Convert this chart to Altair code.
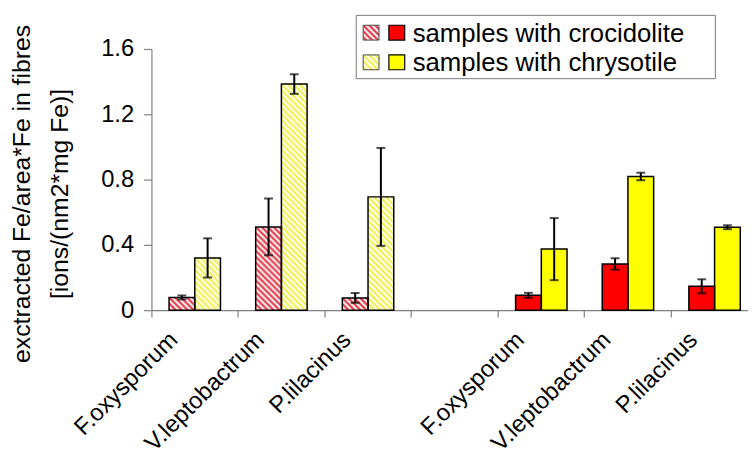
import base64
import json
import altair as alt
import pandas as pd

# ---------------- data ----------------
fungi = ["F.oxysporum", "V.leptobactrum", "P.lilacinus"]
sample_names = ["crocidolite", "chrysotile"]
legend_labels = ["samples with crocidolite", "samples with chrysotile"]

# left block (hatched bars)
left_croc = [0.078, 0.51, 0.075]
left_croc_err = [0.012, 0.174, 0.030]
left_chry = [0.32, 1.385, 0.694]
left_chry_err = [0.12, 0.060, 0.300]

# right block (solid bars)
right_croc = [0.091, 0.283, 0.146]
right_croc_err = [0.015, 0.035, 0.043]
right_chry = [0.374, 0.819, 0.508]
right_chry_err = [0.190, 0.023, 0.012]

slot_keys = ["L1", "L2", "L3", "gap", "R1", "R2", "R3"]
slot_labels = fungi + [""] + fungi
y_ticks = [0, 0.4, 0.8, 1.2, 1.6]

# ---------------- styling helpers ----------------
FONT = "Liberation Sans"


def hatch_url(bg, fg):
    svg = (
        '<svg xmlns="http://www.w3.org/2000/svg" width="100%" height="100%">'
        '<defs><pattern id="h" patternUnits="userSpaceOnUse" width="6" height="6">'
        f'<rect width="6" height="6" fill="{bg}"/>'
        f'<path d="M0,0 L6,6 M-1,5 L1,7 M5,-1 L7,1" stroke="{fg}" stroke-width="2.2"/>'
        '</pattern></defs>'
        '<rect width="100%" height="100%" fill="url(#h)"/></svg>'
    )
    return "data:image/svg+xml;base64," + base64.b64encode(svg.encode()).decode()


hatch = {
    "crocidolite": hatch_url("#fff6f6", "#e23a48"),
    "chrysotile": hatch_url("#fffff2", "#f2ee55"),
}

rows = []
blocks = [
    ("hatched", ["L1", "L2", "L3"], left_croc, left_croc_err, left_chry, left_chry_err),
    ("solid", ["R1", "R2", "R3"], right_croc, right_croc_err, right_chry, right_chry_err),
]
for style, keys, croc, croc_e, chry, chry_e in blocks:
    for i, k in enumerate(keys):
        for s, v, e in (("crocidolite", croc[i], croc_e[i]), ("chrysotile", chry[i], chry_e[i])):
            rows.append(dict(slot=k, sample=s, style=style, value=v, lo=v - e, hi=v + e,
                             key=f"{style}-{s}", url=hatch[s]))
df = pd.DataFrame(rows)

label_expr = (
    f"{json.dumps(slot_labels)}[indexof({json.dumps(slot_keys)}, datum.value)]"
)

x_enc = alt.X(
    "slot:N",
    scale=alt.Scale(domain=slot_keys, range=[0, 613], paddingInner=0, paddingOuter=0),
    axis=alt.Axis(
        title=None,
        bandPosition=0,
        labelExpr=label_expr,
        labelAngle=-45,
        labelAlign="right",
        labelBaseline="middle",
        labelOffset=-21,
        labelPadding=19,
        labelFontSize=24,
        labelOverlap=False,
        labelBound=False,
        tickSize=7,
    ),
)
xo_enc = alt.XOffset(
    "sample:N",
    scale=alt.Scale(domain=sample_names, paddingInner=0, paddingOuter=0.685),
)

y_axis = alt.Axis(
    values=y_ticks,
    labelExpr="datum.value == 0 ? '0' : format(datum.value, '.1f')",
    tickSize=8,
    labelPadding=10,
    labelFontSize=24,
    titleFontSize=25,
    titleFontWeight="normal",
    titleAngle=-90,
    titleAlign="center",
    titleBaseline="top",
    titleLineHeight=38,
    titleX=-143,
    titleY=146,
)
y_scale = alt.Scale(domain=[0, 1.6], nice=False)
y_title = ["exctracted Fe/area*Fe in fibres", "[ions/(nm2*mg Fe)]"]


def Y(field):
    return alt.Y(field, scale=y_scale, axis=y_axis, title=y_title)


base = alt.Chart(df)

bars = base.mark_bar().encode(
    x=x_enc,
    xOffset=xo_enc,
    y=Y("value:Q"),
    fill=alt.Fill(
        "key:N",
        scale=alt.Scale(
            domain=["hatched-crocidolite", "hatched-chrysotile", "solid-crocidolite", "solid-chrysotile"],
            range=["#ffffff", "#ffffff", "#ff0000", "#ffff00"],
        ),
        legend=None,
    ),
)

hatches = base.transform_filter(alt.datum.style == "hatched").mark_image(aspect=False).encode(
    x=x_enc,
    xOffset=xo_enc,
    y=Y("value:Q"),
    y2=alt.datum(0),
    url="url:N",
)

outlines = base.mark_bar(fillOpacity=0, stroke="black", strokeWidth=1.5).encode(
    x=x_enc, xOffset=xo_enc, y=Y("value:Q")
)

err = base.mark_rule(color="black", strokeWidth=2).encode(
    x=x_enc, xOffset=xo_enc, y=Y("lo:Q"), y2="hi:Q"
)
cap_hi = base.mark_tick(color="black", thickness=2, size=9).encode(
    x=x_enc, xOffset=xo_enc, y=Y("hi:Q")
)
cap_lo = base.mark_tick(color="black", thickness=2, size=9).encode(
    x=x_enc, xOffset=xo_enc, y=Y("lo:Q")
)

# ---------------- custom legend (two swatches per entry) ----------------
one = pd.DataFrame({"k": [0]})
leg = [
    alt.Chart(one).mark_rect(fill="white", stroke="#7a7a7a", strokeWidth=1).encode(
        x=alt.value(207), x2=alt.value(570), y=alt.value(-34), y2=alt.value(30)
    )
]
row_y = [(-24, -9, -7), (6, 21, 22)]
solid_cols = ["#ff0000", "#ffff00"]
for (y0, y1, yb), s, lab, col in zip(row_y, sample_names, legend_labels, solid_cols):
    leg.append(
        alt.Chart(one).mark_image(aspect=False).encode(
            x=alt.value(214), x2=alt.value(230), y=alt.value(y0), y2=alt.value(y1),
            url=alt.value(hatch[s]),
        )
    )
    leg.append(
        alt.Chart(one).mark_rect(fillOpacity=0, stroke="#444444", strokeWidth=1).encode(
            x=alt.value(214), x2=alt.value(230), y=alt.value(y0), y2=alt.value(y1)
        )
    )
    leg.append(
        alt.Chart(one).mark_rect(fill=col, stroke="black", strokeWidth=1.2).encode(
            x=alt.value(240), x2=alt.value(256), y=alt.value(y0), y2=alt.value(y1)
        )
    )
    leg.append(
        alt.Chart(pd.DataFrame({"t": [lab]})).mark_text(
            align="left", baseline="alphabetic", fontSize=26, font=FONT, color="black"
        ).encode(x=alt.value(264), y=alt.value(yb), text="t:N")
    )

chart = alt.layer(bars, hatches, outlines, err, cap_hi, cap_lo, *leg).properties(
    width=603,
    height=264,
    padding={"left": 145, "top": 39, "right": 0, "bottom": 147},
    autosize=alt.AutoSizeParams(type="none"),
).configure_view(stroke=None).configure_axis(
    grid=False,
    labelFont=FONT,
    titleFont=FONT,
    labelColor="black",
    titleColor="black",
    domainColor="#808080",
    tickColor="#808080",
    domainWidth=1.2,
    tickWidth=1.2,
)

chart.save("out.html", embed_options={"renderer": "svg", "actions": False})
